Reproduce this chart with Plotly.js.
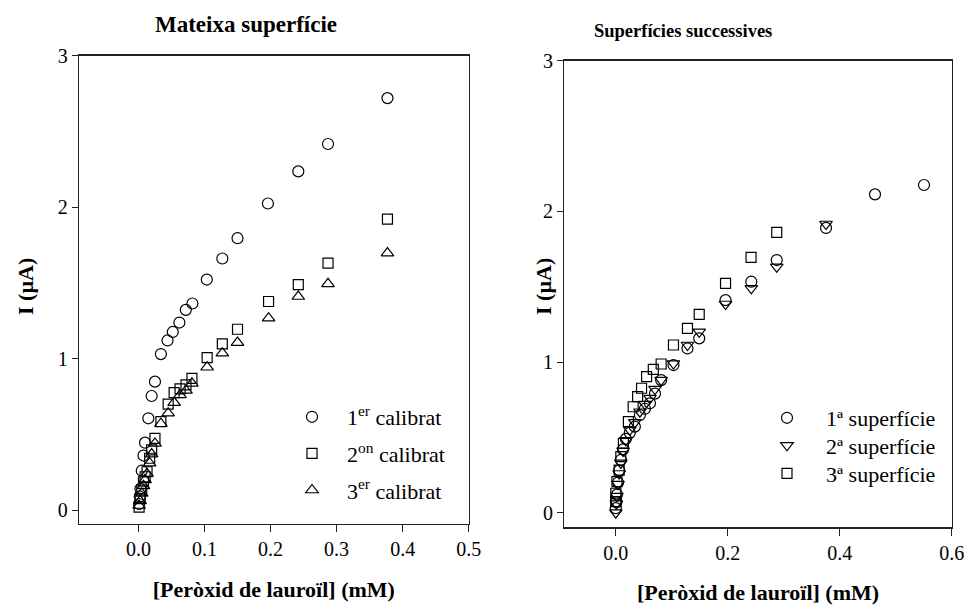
<!DOCTYPE html>
<html><head><meta charset="utf-8">
<script src="https://cdn.plot.ly/plotly-3.0.1.min.js"></script>
<style>html,body{margin:0;padding:0;background:#fff}#chart{width:966px;height:605px}</style>
</head><body><div id="chart"></div>
<script>
// Left panel: same surface, three calibrations
const L1_x = [0.001, 0.002, 0.003, 0.005, 0.0076, 0.010, 0.015, 0.020, 0.025, 0.034, 0.044, 0.052, 0.062, 0.0717, 0.0817, 0.1035, 0.127, 0.150, 0.196, 0.242, 0.287, 0.377];
const L1_y = [0.04, 0.09, 0.14, 0.26, 0.36, 0.445, 0.606, 0.753, 0.848, 1.03, 1.12, 1.176, 1.238, 1.322, 1.364, 1.522, 1.661, 1.795, 2.024, 2.236, 2.417, 2.72];
const L2_x = [0.001, 0.0026, 0.005, 0.0076, 0.010, 0.013, 0.017, 0.020, 0.025, 0.034, 0.045, 0.054, 0.063, 0.072, 0.081, 0.104, 0.127, 0.150, 0.197, 0.242, 0.287, 0.377];
const L2_y = [0.02, 0.077, 0.132, 0.187, 0.22, 0.253, 0.342, 0.397, 0.474, 0.584, 0.70, 0.775, 0.80, 0.826, 0.87, 1.007, 1.097, 1.194, 1.377, 1.489, 1.630, 1.921];
const L3_x = [0.001, 0.0026, 0.005, 0.0076, 0.010, 0.013, 0.017, 0.020, 0.025, 0.034, 0.045, 0.054, 0.063, 0.072, 0.081, 0.104, 0.127, 0.150, 0.197, 0.242, 0.287, 0.377];
const L3_y = [0.03, 0.06, 0.11, 0.16, 0.20, 0.24, 0.31, 0.37, 0.44, 0.57, 0.64, 0.71, 0.76, 0.79, 0.837, 0.943, 1.036, 1.106, 1.267, 1.41, 1.494, 1.697];
const L_names = ["1<sup>er</sup> calibrat", "2<sup>on</sup> calibrat", "3<sup>er</sup> calibrat"];

// Right panel: successive surfaces
const R1_x = [0.0, 0.001, 0.002, 0.004, 0.006, 0.009, 0.013, 0.018, 0.025, 0.034, 0.043, 0.052, 0.061, 0.070, 0.081, 0.103, 0.128, 0.149, 0.196, 0.242, 0.2875, 0.3755, 0.463, 0.5505];
const R1_y = [0.03, 0.07, 0.12, 0.20, 0.28, 0.35, 0.42, 0.49, 0.53, 0.571, 0.648, 0.69, 0.726, 0.79, 0.88, 0.98, 1.09, 1.157, 1.411, 1.533, 1.677, 1.89, 2.113, 2.175];
const R2_x = [0.0, 0.001, 0.002, 0.004, 0.006, 0.009, 0.013, 0.018, 0.025, 0.034, 0.043, 0.052, 0.061, 0.070, 0.081, 0.103, 0.128, 0.149, 0.196, 0.242, 0.2875, 0.3755];
const R2_y = [0.0, 0.06, 0.11, 0.19, 0.26, 0.33, 0.41, 0.48, 0.55, 0.60, 0.67, 0.72, 0.76, 0.82, 0.88, 0.99, 1.113, 1.20, 1.385, 1.489, 1.632, 1.916];
const R3_x = [0.0, 0.0, 0.002, 0.006, 0.009, 0.0136, 0.0225, 0.031, 0.039, 0.046, 0.055, 0.067, 0.081, 0.103, 0.128, 0.149, 0.196, 0.2416, 0.2875];
const R3_y = [0.073, 0.129, 0.206, 0.283, 0.372, 0.46, 0.604, 0.703, 0.77, 0.826, 0.903, 0.951, 0.987, 1.113, 1.224, 1.316, 1.522, 1.695, 1.861];
const R_names = ["1ª superfície", "2ª superfície", "3ª superfície"];

const serif = "'Liberation Serif', Times, serif";
function mk(sym, size){ return {symbol: sym, size: size, color: "#000", line: {color: "#000", width: 1.2}}; }
function tr(x, y, name, sym, size, xa, ya, lg, grp){
  return {x: x, y: y, name: name, type: "scatter", mode: "markers", marker: mk(sym, size), xaxis: xa, yaxis: ya, legend: lg, legendgroup: grp, cliponaxis: false};
}
const data = [
  tr(L1_x, L1_y, L_names[0], "circle-open", 11, "x", "y", "legend", "a1"),
  tr(L2_x, L2_y, L_names[1], "square-open", 10, "x", "y", "legend", "a2"),
  tr(L3_x, L3_y, L_names[2], "triangle-up-open", 11, "x", "y", "legend", "a3"),
  tr(R1_x, R1_y, R_names[0], "circle-open", 11, "x2", "y2", "legend2", "b1"),
  tr(R2_x, R2_y, R_names[1], "triangle-down-open", 11, "x2", "y2", "legend3", "b2"),
  tr(R3_x, R3_y, R_names[2], "square-open", 10, "x2", "y2", "legend4", "b3")
];
const W = 966, H = 605;
const axBase = {showline: true, mirror: true, linecolor: "#222", linewidth: 1.3, ticks: "outside", ticklen: 7, tickwidth: 1, tickcolor: "#222", showgrid: false, zeroline: false, tickfont: {family: serif, size: 20, color: "#000"}};
const tfont = {family: serif, size: 22, color: "#000"};
function rleg(yc){ return {x: 748/W, y: 1 - yc/H, xanchor: "left", yanchor: "middle", bgcolor: "rgba(0,0,0,0)", font: {family: serif, size: 22}, itemwidth: 68}; }
const layout = {
  width: W, height: H, margin: {l: 0, r: 0, t: 0, b: 0}, paper_bgcolor: "#fff", plot_bgcolor: "#fff",
  font: {family: serif, color: "#000"},
  xaxis: Object.assign({}, axBase, {domain: [79/W, 468.7/W], range: [-0.09, 0.5], dtick: 0.1, tick0: 0, tickformat: ".1f", anchor: "y",
    title: {text: "<b>[Peròxid de lauroïl] (mM)</b>", font: tfont, standoff: 22}}),
  yaxis: Object.assign({}, axBase, {domain: [1 - 524/H, 1 - 55.7/H], range: [-0.092, 3], dtick: 1, tick0: 0, anchor: "x", ticklen: 6}),
  xaxis2: Object.assign({}, axBase, {domain: [564.3/W, 951.7/W], range: [-0.092, 0.6], dtick: 0.2, tick0: 0, tickformat: ".1f", anchor: "y2",
    title: {text: "<b>[Peròxid de lauroïl] (mM)</b>", font: tfont, standoff: 22}}),
  yaxis2: Object.assign({}, axBase, {domain: [1 - 527.3/H, 1 - 60.7/H], range: [-0.097, 3], dtick: 1, tick0: 0, anchor: "x2", ticklen: 6}),
  legend: {x: 277/W, y: 1 - 396/H, xanchor: "left", yanchor: "top", bgcolor: "rgba(0,0,0,0)", font: {family: serif, size: 22}, itemwidth: 60, tracegroupgap: 5},
  legend2: rleg(418),
  legend3: rleg(445.5),
  legend4: rleg(473.5),
  annotations: [
    {text: "<b>Mateixa superfície</b>", xref: "paper", yref: "paper", x: 246/W, y: 1 - 25/H, xanchor: "center", yanchor: "middle", showarrow: false, font: {family: serif, size: 23}},
    {text: "<b>Superfícies successives</b>", xref: "paper", yref: "paper", x: 683/W, y: 1 - 31/H, xanchor: "center", yanchor: "middle", showarrow: false, font: {family: serif, size: 18.5}},
    {text: "<b>I (µA)</b>", xref: "paper", yref: "paper", x: 25/W, y: 1 - 287/H, xanchor: "center", yanchor: "middle", textangle: -90, showarrow: false, font: tfont},
    {text: "<b>I (µA)</b>", xref: "paper", yref: "paper", x: 543/W, y: 1 - 287/H, xanchor: "center", yanchor: "middle", textangle: -90, showarrow: false, font: tfont}
  ],
  showlegend: true
};
Plotly.newPlot("chart", data, layout, {displayModeBar: false, staticPlot: true});
</script></body></html>
